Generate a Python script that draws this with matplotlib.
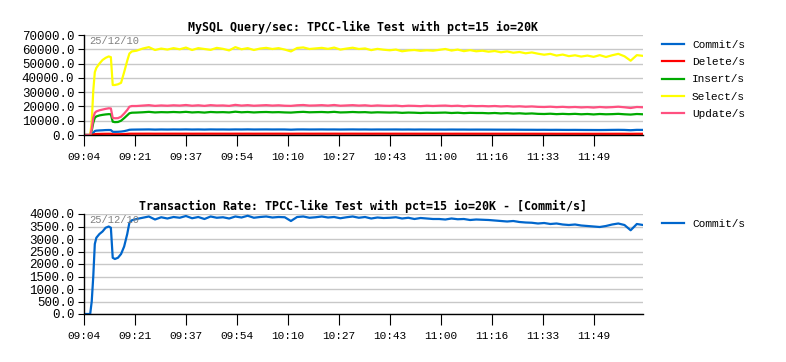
'''MySQL query rate and transaction rate, TPCC-like test.'''

#%%
import numpy as np
import matplotlib
matplotlib.use('Agg')
import matplotlib.pyplot as plt

# time in minutes from 09:04:30, fine steps during ramp-up, then every 2 min
t_start = [0, 1, 2, 2.5, 3, 3.5, 4, 5, 6, 7, 8, 8.7, 9.3, 10, 11, 12, 13, 14, 14.7, 15.5]
t_run = list(range(17, 182, 2))
minutes = t_start + t_run

commit = [0, 0, 0, 500, 1500, 2800, 3050, 3200, 3300, 3450, 3500, 3450, 2250, 2200, 2250, 2400, 2700, 3200, 3650, 3750,
          3800, 3850, 3900, 3780, 3870, 3820, 3880,
          3850, 3920, 3830, 3880, 3800, 3900, 3850,
          3870, 3820, 3900, 3860, 3930, 3850, 3880,
          3900, 3860, 3880, 3870, 3720, 3880, 3900,
          3850, 3870, 3900, 3860, 3880, 3830, 3870,
          3900, 3850, 3880, 3820, 3860, 3840, 3850,
          3870, 3820, 3850, 3800, 3840, 3820, 3800,
          3800, 3780, 3820, 3790, 3800, 3760, 3780,
          3770, 3760, 3740, 3720, 3700, 3720, 3680,
          3660, 3650, 3620, 3640, 3600, 3620, 3580,
          3560, 3580, 3540, 3520, 3500, 3480, 3520,
          3580, 3620, 3560, 3350, 3600, 3560]

delete = [0, 0, 0, 100, 300, 600, 700, 750, 800, 830, 850, 830, 550, 530, 540, 580, 650, 780, 880, 900,
          900, 910, 920, 890, 905, 900, 915,
          905, 920, 895, 910, 900, 915, 905,
          910, 900, 920, 905, 915, 895, 905,
          915, 905, 910, 900, 880, 910, 920,
          900, 905, 915, 905, 920, 895, 905,
          915, 900, 910, 890, 905, 895, 890,
          900, 885, 895, 890, 880, 890, 885,
          890, 895, 880, 890, 875, 885, 880,
          880, 875, 880, 870, 875, 865, 870,
          860, 865, 855, 850, 860, 845, 850,
          840, 850, 835, 845, 830, 845, 835,
          845, 850, 840, 800, 850, 840]

insert = [0, 0, 0, 3000, 8500, 12000, 13000, 13700, 14100, 14400, 14600, 14500, 9300, 9000, 9100, 10000, 11800, 13800, 15200, 15600,
          15700, 15900, 16200, 15800, 16000, 15900, 16100,
          15900, 16200, 15800, 16000, 15700, 16100, 15900,
          16000, 15800, 16300, 15900, 16100, 15800, 16000,
          16100, 15900, 16000, 15800, 15700, 16000, 16200,
          15900, 16000, 16100, 15900, 16200, 15800, 15900,
          16100, 15900, 16000, 15700, 15900, 15800, 15700,
          15800, 15500, 15700, 15600, 15400, 15600, 15500,
          15600, 15700, 15400, 15600, 15300, 15500, 15400,
          15400, 15200, 15400, 15100, 15300, 15000, 15200,
          14900, 15100, 14800, 14700, 14900, 14600, 14800,
          14600, 14800, 14500, 14700, 14400, 14700, 14500,
          14600, 14800, 14500, 14300, 14700, 14500]

select = [0, 0, 0, 9000, 31000, 44000, 47000, 50000, 52500, 54000, 55000, 54500, 35000, 35000, 35500, 36500, 44000, 52000, 57000, 58500,
          59000, 60500, 61500, 59500, 60500, 59800, 60800,
          60000, 61200, 59500, 60800, 60200, 59600, 61000,
          60300, 59200, 61500, 60000, 60800, 59500, 60500,
          61000, 60200, 60800, 59800, 58500, 60900, 61300,
          60200, 60600, 61000, 60300, 61200, 59800, 60500,
          61100, 60200, 60600, 59400, 60300, 59700, 59300,
          59800, 58600, 59200, 59500, 58900, 59300, 59000,
          59600, 60200, 59100, 59800, 58700, 59400, 58600,
          59000, 58300, 58800, 57900, 58500, 57600, 58100,
          57200, 57800, 56900, 56200, 56800, 55600, 56300,
          55200, 55800, 54900, 55600, 54700, 55900, 54600,
          55800, 56800, 55100, 52000, 55900, 55400]

update = [0, 0, 0, 4000, 12000, 15500, 16500, 17300, 17800, 18300, 18700, 18600, 12000, 11700, 11800, 12800, 15000, 17500, 19800, 20300,
          20300, 20600, 20900, 20400, 20700, 20500, 20800,
          20600, 21000, 20500, 20800, 20400, 20900, 20600,
          20700, 20400, 21100, 20600, 20900, 20500, 20700,
          20900, 20600, 20800, 20500, 20400, 20800, 21000,
          20600, 20700, 20900, 20600, 21000, 20500, 20700,
          20900, 20600, 20800, 20400, 20700, 20500, 20400,
          20600, 20200, 20500, 20400, 20200, 20500, 20300,
          20500, 20600, 20300, 20500, 20100, 20400, 20200,
          20300, 20100, 20300, 20000, 20200, 19900, 20100,
          19800, 20000, 19700, 19600, 19800, 19500, 19700,
          19400, 19600, 19300, 19500, 19200, 19600, 19300,
          19500, 19800, 19400, 18900, 19600, 19400]

series_names = ['Commit/s', 'Delete/s', 'Insert/s', 'Select/s', 'Update/s']
series_colors = ['#0066cc', '#ff0000', '#00aa00', '#ffff00', '#ff5080']

tick_labels = ['09:04', '09:21', '09:37', '09:54', '10:10', '10:27',
               '10:43', '11:00', '11:16', '11:33', '11:49']
tick_pos = [0, 16.5, 33, 49.5, 66, 82.5, 99, 115.5, 132, 148.5, 165]

top_title = 'MySQL Query/sec: TPCC-like Test with pct=15 io=20K'
bottom_title = 'Transaction Rate: TPCC-like Test with pct=15 io=20K - [Commit/s]'
stamp = '25/12/10'

#%%
mono = 'Liberation Mono'
W, H = 786, 362
fig = plt.figure(figsize=(W / 100, H / 100), dpi=100)

ax1 = fig.add_axes([84 / W, 1 - 135 / H, 559 / W, 100 / H])
ax2 = fig.add_axes([84 / W, 1 - 314 / H, 559 / W, 100 / H])


def style_axes(ax, yticks, title):
    ax.set_xlim(0, 181)
    ax.set_ylim(yticks[0], yticks[-1])
    ax.set_yticks(yticks)
    ax.set_yticklabels([f'{v:.1f}' for v in yticks], family=mono, fontsize=9)
    ax.set_xticks(tick_pos)
    ax.set_xticklabels(tick_labels, family=mono, fontsize=8)
    ax.tick_params(axis='y', length=4, width=0.8, pad=3)
    ax.tick_params(axis='x', length=8, width=0.8, pad=4)
    ax.grid(axis='y', color='#c8c8c8', lw=1.0)
    ax.set_axisbelow(True)
    for s in ['top', 'right']:
        ax.spines[s].set_visible(False)
    for s in ['left', 'bottom']:
        ax.spines[s].set_linewidth(1.0)
    ax.set_title(title, family='DejaVu Sans Mono', fontweight='bold', fontsize=8.4, pad=3)
    ax.text(5 / 559, 1 - 6 / 100, stamp, transform=ax.transAxes, color='#808080',
            family=mono, fontsize=7.5, va='center', ha='left')


all_series = [commit, delete, insert, select, update]
for name, color, vals in zip(series_names, series_colors, all_series):
    ax1.plot(minutes, vals, color=color, lw=1.6, label=name)
style_axes(ax1, list(range(0, 70001, 10000)), top_title)

ax2.plot(minutes, commit, color=series_colors[0], lw=1.6, label='Commit/s')
style_axes(ax2, list(range(0, 4001, 500)), bottom_title)

for ax, top_px in [(ax1, 40), (ax2, 219)]:
    ax.legend(loc='upper left', bbox_to_anchor=(662 / W, 1 - top_px / H),
              bbox_transform=fig.transFigure, frameon=False, borderpad=0,
              borderaxespad=0, handlelength=2.0, handletextpad=0.7,
              labelspacing=0.65, prop={'family': mono, 'size': 8})

plt.savefig('out.png', dpi=100)
